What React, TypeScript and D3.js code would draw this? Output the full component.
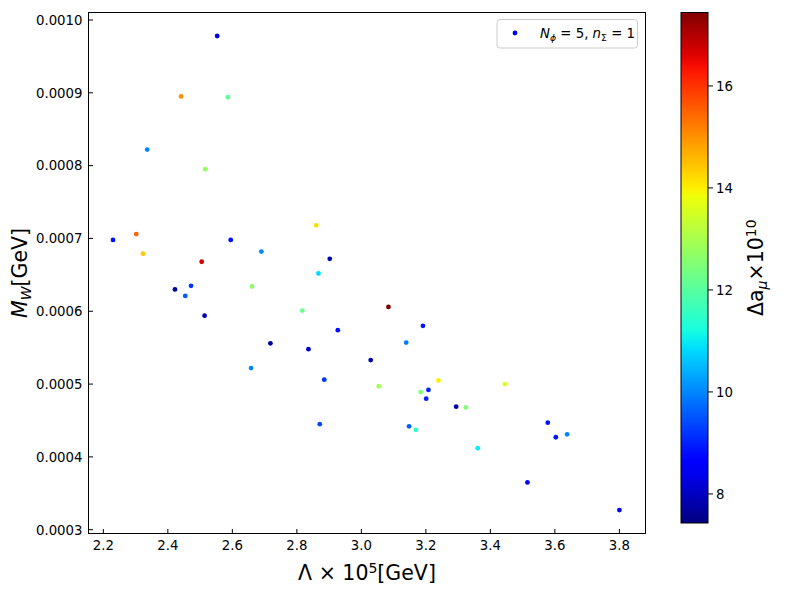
import React from 'react'
import * as d3 from 'd3'

// Λ×10^5 [GeV]
const lambdaVals = [
  2.553, 2.441, 2.586, 2.336, 2.516, 2.230, 2.302, 2.323, 2.595, 2.690,
  2.505, 2.902, 2.860, 2.867, 2.422, 2.472, 2.454, 2.661, 2.514, 2.817,
  3.084, 2.927, 2.718, 2.836, 3.029, 2.658, 2.885, 3.054, 3.191, 3.139,
  3.239, 3.184, 3.208, 3.201, 3.294, 3.324, 2.871, 3.148, 3.169, 3.361,
  3.445, 3.578, 3.603, 3.638, 3.515, 3.800,
]

// M_W [GeV]
const mwVals = [
  0.000978, 0.000895, 0.000894, 0.000822, 0.000795, 0.000698, 0.000706, 0.000679, 0.000698, 0.000682,
  0.000668, 0.000672, 0.000718, 0.000652, 0.000630, 0.000635, 0.000621, 0.000634, 0.000594, 0.000601,
  0.000606, 0.000574, 0.000556, 0.000548, 0.000533, 0.000522, 0.000506, 0.000497, 0.000580, 0.000557,
  0.000505, 0.000489, 0.000492, 0.000480, 0.000469, 0.000468, 0.000445, 0.000442, 0.000437, 0.000412,
  0.000500, 0.000447, 0.000427, 0.000431, 0.000365, 0.000327,
]

// Δa_μ×10^10 (colour)
const daVals = [
  8.3, 15.0, 12.1, 10.0, 12.7, 8.8, 15.5, 14.4, 8.8, 10.0,
  16.7, 7.8, 14.2, 10.8, 7.7, 9.2, 9.6, 12.6, 7.9, 12.2,
  17.4, 8.8, 7.7, 8.1, 7.8, 10.0, 9.2, 12.9, 8.9, 9.9,
  14.0, 12.5, 9.0, 9.0, 7.8, 12.5, 9.4, 9.6, 11.5, 11.0,
  13.6, 8.9, 8.9, 10.0, 8.5, 8.7,
]

const xTicks = [2.2, 2.4, 2.6, 2.8, 3.0, 3.2, 3.4, 3.6, 3.8]
const yTicks = [0.0003, 0.0004, 0.0005, 0.0006, 0.0007, 0.0008, 0.0009, 0.001]
const cbTicks = [8, 10, 12, 14, 16]
const cbRange = [7.43, 17.44]

// matplotlib "jet"
const jr = d3.scaleLinear().domain([0, 0.35, 0.66, 0.89, 1]).range([0, 0, 1, 1, 0.5]).clamp(true)
const jg = d3.scaleLinear().domain([0, 0.125, 0.375, 0.64, 0.91, 1]).range([0, 0, 1, 1, 0, 0]).clamp(true)
const jb = d3.scaleLinear().domain([0, 0.11, 0.34, 0.65, 1]).range([0.5, 1, 1, 0, 0]).clamp(true)
const jet = (t: number) =>
  d3.rgb(Math.round(jr(t) * 255), Math.round(jg(t) * 255), Math.round(jb(t) * 255)).formatHex()

const FONT = 'DejaVu Sans, sans-serif'

export default function App() {
  const W = 800
  const H = 600
  const plot = { left: 88.5, right: 645.5, top: 12.5, bottom: 533.5 }
  const cb = { left: 681, right: 708, top: 12.5, bottom: 523 }

  const x = d3.scaleLinear().domain([2.154, 3.881]).range([plot.left, plot.right])
  const y = d3.scaleLinear().domain([0.0002948, 0.0010103]).range([plot.bottom, plot.top])
  const cNorm = d3.scaleLinear().domain(cbRange).range([0, 1])
  const cbY = d3.scaleLinear().domain(cbRange).range([cb.bottom, cb.top])

  const stops = d3.range(0, 1.0001, 0.02)

  return (
    <svg width={W} height={H} style={{ position: 'absolute', left: 0, top: 0, background: '#fff' }} fontFamily={FONT}>
      <defs>
        <linearGradient id="jetGrad" x1="0" y1="1" x2="0" y2="0">
          {stops.map((s, i) => (
            <stop key={i} offset={s} stopColor={jet(s)} />
          ))}
        </linearGradient>
      </defs>

      {/* points */}
      {lambdaVals.map((lv, i) => (
        <circle key={i} cx={x(lv)} cy={y(mwVals[i])} r={2.4} fill={jet(cNorm(daVals[i]))} />
      ))}

      {/* x ticks (inward) */}
      {xTicks.map((t) => (
        <g key={t}>
          <line x1={x(t)} x2={x(t)} y1={plot.bottom} y2={plot.bottom - 4.5} stroke="#000" strokeWidth={1} />
          <text x={x(t)} y={plot.bottom + 16.5} fontSize={13.3} textAnchor="middle" fill="#000">
            {t.toFixed(1)}
          </text>
        </g>
      ))}

      {/* y ticks (inward) */}
      {yTicks.map((t) => (
        <g key={t}>
          <line x1={plot.left} x2={plot.left + 4.5} y1={y(t)} y2={y(t)} stroke="#000" strokeWidth={1} />
          <text x={plot.left - 6} y={y(t) + 4.8} fontSize={13.3} textAnchor="end" fill="#000">
            {t.toFixed(4)}
          </text>
        </g>
      ))}

      {/* frame */}
      <rect
        x={plot.left}
        y={plot.top}
        width={plot.right - plot.left}
        height={plot.bottom - plot.top}
        fill="none"
        stroke="#000"
        strokeWidth={1}
      />

      {/* axis labels */}
      <text x={(plot.left + plot.right) / 2} y={580} fontSize={20.5} textAnchor="middle" fill="#000">
        Λ × 10<tspan dy={-7.5} fontSize={14}>5</tspan>
        <tspan dy={7.5}>[GeV]</tspan>
      </text>
      <text
        transform={`translate(27,${(plot.top + plot.bottom) / 2}) rotate(-90)`}
        fontSize={20.5}
        textAnchor="middle"
        fill="#000"
      >
        <tspan fontStyle="italic">M</tspan>
        <tspan dy={4} fontSize={14} fontStyle="italic">W</tspan>
        <tspan dy={-4}>[GeV]</tspan>
      </text>

      {/* legend */}
      <rect x={497} y={19.5} width={140.5} height={28.5} rx={3} fill="#fff" fillOpacity={0.8} stroke="#ccc" strokeWidth={1} />
      <circle cx={515} cy={33} r={2.4} fill="#0000f0" />
      <text x={540} y={37.5} fontSize={13.3} fill="#000">
        <tspan fontStyle="italic">N</tspan>
        <tspan dy={3} fontSize={9.3} fontStyle="italic">ϕ</tspan>
        <tspan dy={-3}> = 5, </tspan>
        <tspan fontStyle="italic">n</tspan>
        <tspan dy={3} fontSize={9.3}>Σ</tspan>
        <tspan dy={-3}> = 1</tspan>
      </text>

      {/* colorbar */}
      <rect x={cb.left} y={cb.top} width={cb.right - cb.left} height={cb.bottom - cb.top} fill="url(#jetGrad)" />
      <rect
        x={cb.left}
        y={cb.top}
        width={cb.right - cb.left}
        height={cb.bottom - cb.top}
        fill="none"
        stroke="#000"
        strokeWidth={1}
      />
      {cbTicks.map((t) => (
        <g key={t}>
          <line x1={cb.right} x2={cb.right + 5} y1={cbY(t)} y2={cbY(t)} stroke="#000" strokeWidth={1} />
          <text x={cb.right + 8} y={cbY(t) + 4.8} fontSize={13.3} fill="#000">
            {t}
          </text>
        </g>
      ))}
      <text
        transform={`translate(763,${(cb.top + cb.bottom) / 2}) rotate(-90)`}
        fontSize={20.5}
        textAnchor="middle"
        fill="#000"
      >
        Δ<tspan>a</tspan>
        <tspan dy={4} fontSize={14} fontStyle="italic">μ</tspan>
        <tspan dy={-4}>×10</tspan>
        <tspan dy={-7.5} fontSize={14}>10</tspan>
      </text>
    </svg>
  )
}
